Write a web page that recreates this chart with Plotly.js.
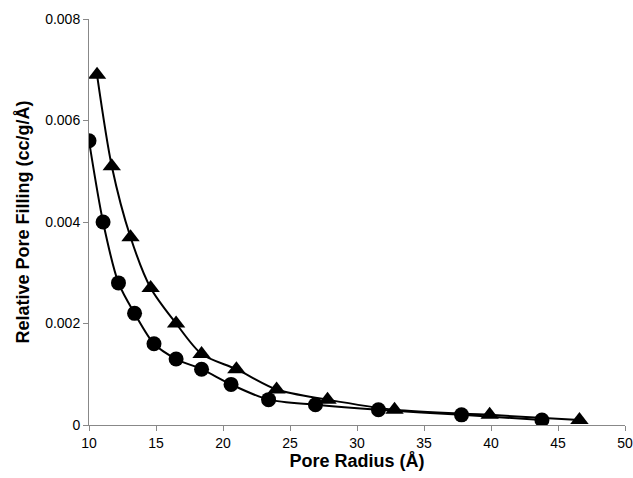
<!DOCTYPE html>
<html><head><meta charset="utf-8">
<script src="https://cdn.plot.ly/plotly-3.0.1.min.js"></script>
<style>html,body{margin:0;padding:0;background:#fff}#chart{width:633px;height:478px}</style>
</head><body><div id="chart"></div>
<script>
var circleX = [10.0, 11.05, 12.2, 13.4, 14.85, 16.5, 18.4, 20.6, 23.4, 26.9, 31.6, 37.8, 43.8];
var circleY = [0.0056, 0.0040, 0.0028, 0.0022, 0.0016, 0.0013, 0.0011, 0.0008, 0.0005, 0.0004, 0.0003, 0.0002, 0.0001];
var triX = [10.6, 11.7, 13.1, 14.6, 16.5, 18.4, 21.0, 24.0, 27.8, 32.8, 39.9, 46.6];
var triY = [0.0069, 0.0051, 0.0037, 0.0027, 0.0020, 0.0014, 0.0011, 0.0007, 0.0005, 0.0003, 0.0002, 0.0001];
var yTicks = [0, 0.002, 0.004, 0.006, 0.008];
var yTickText = ['0', '0.002', '0.004', '0.006', '0.008'];
var xTicks = [10, 15, 20, 25, 30, 35, 40, 45, 50];

var traces = [
  {x: circleX, y: circleY, mode: 'lines+markers', type: 'scatter',
   line: {color: '#000', width: 2, shape: 'spline', smoothing: 0.8},
   marker: {symbol: 'circle', size: 15, color: '#000'}},
  {x: triX, y: triY, mode: 'lines+markers', type: 'scatter',
   line: {color: '#000', width: 2, shape: 'spline', smoothing: 0.8},
   marker: {symbol: 'triangle-up', size: 16, color: '#000'}}
];
var fam = 'Arial, Liberation Sans, sans-serif';
var axFont = {family: fam, size: 14, color: '#000'};
var titleFont = {family: fam, size: 18, color: '#000', weight: 'bold'};
var layout = {
  width: 633, height: 478,
  margin: {l: 89, r: 8, t: 19, b: 53},
  showlegend: false,
  paper_bgcolor: '#fff', plot_bgcolor: '#fff',
  xaxis: {range: [10, 50], tickvals: xTicks, showgrid: false, zeroline: false,
    showline: true, linecolor: '#888', linewidth: 1, ticks: 'outside', ticklen: 5, tickcolor: '#888',
    tickfont: axFont,
    title: {text: 'Pore Radius (Å)', font: titleFont, standoff: 4}},
  yaxis: {range: [0, 0.008], tickvals: yTicks, ticktext: yTickText, showgrid: false, zeroline: false,
    showline: true, linecolor: '#888', linewidth: 1, ticks: 'outside', ticklen: 5, tickcolor: '#888',
    tickfont: axFont,
    title: {text: 'Relative Pore Filling (cc/g/Å)', font: titleFont, standoff: 10}}
};
Plotly.newPlot('chart', traces, layout, {staticPlot: true, displayModeBar: false});
</script></body></html>
